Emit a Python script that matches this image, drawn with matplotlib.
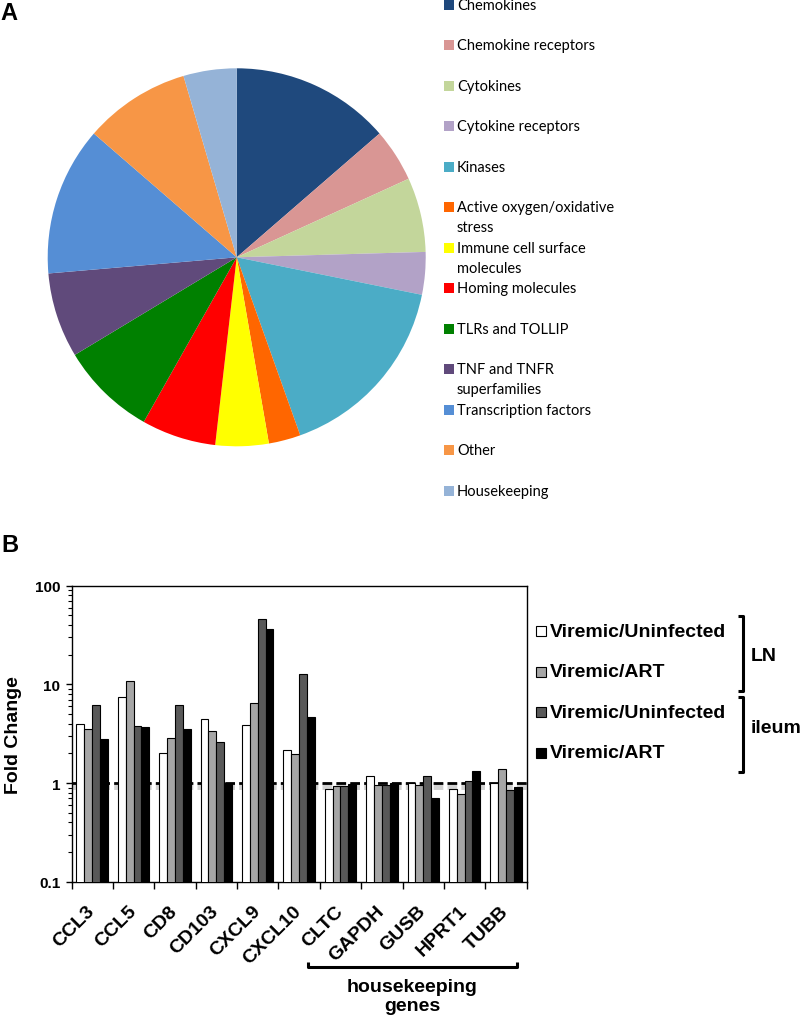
import matplotlib
matplotlib.use('Agg')
import matplotlib.pyplot as plt
import matplotlib.patheffects as pe
from matplotlib.patches import Rectangle
import numpy as np

# panel A: gene categories on the array (gene counts)
categories = ['Chemokines', 'Chemokine receptors', 'Cytokines', 'Cytokine receptors',
              'Kinases', 'Active oxygen/oxidative\nstress', 'Immune cell surface\nmolecules',
              'Homing molecules', 'TLRs and TOLLIP', 'TNF and TNFR\nsuperfamilies',
              'Transcription factors', 'Other', 'Housekeeping']
counts = [15, 5, 7, 4, 18, 3, 5, 7, 9, 8, 14, 10, 5]
pie_colors = ['#1F497D', '#D99694', '#C3D69B', '#B2A2C7', '#4BACC6', '#FF6600', '#FFFF00',
              '#FF0000', '#008000', '#604A7B', '#558ED5', '#F79646', '#95B3D7']

# panel B: fold change per gene
genes = ['CCL3', 'CCL5', 'CD8', 'CD103', 'CXCL9', 'CXCL10', 'CLTC', 'GAPDH', 'GUSB', 'HPRT1', 'TUBB']
ln_vu = [3.99, 7.49, 2.01, 4.48, 3.87, 2.17, 0.875, 1.19, 1.01, 0.875, 1.0]
ln_va = [3.55, 10.9, 2.86, 3.36, 6.51, 1.97, 0.94, 0.946, 0.96, 0.78, 1.39]
il_vu = [6.11, 3.80, 6.11, 2.60, 46.2, 12.8, 0.925, 0.946, 1.17, 1.05, 0.855]
il_va = [2.77, 3.69, 3.57, 0.99, 36.0, 4.62, 0.98, 1.01, 0.70, 1.31, 0.91]
series_labels = ['Viremic/Uninfected', 'Viremic/ART', 'Viremic/Uninfected', 'Viremic/ART']
bar_colors = ['white', '#A6A6A6', '#595959', 'black']

W, H = 800, 1020
fig = plt.figure(figsize=(8, 10.2), dpi=100)

def box(x0, y0, x1, y1):
    # pixel box (top-left origin) -> figure fraction
    return [x0 / W, 1 - y1 / H, (x1 - x0) / W, (y1 - y0) / H]

# overlay in pixel coords for legends / brackets / panel letters
ov = fig.add_axes([0, 0, 1, 1])
ov.set_xlim(0, W)
ov.set_ylim(H, 0)
ov.axis('off')

bold = dict(fontweight='bold', family='Liberation Sans')

# ---- A ----
cx, cy, r = 236.7, 258.3, 189
axp = fig.add_axes(box(cx - r, cy - r, cx + r, cy + r))
axp.pie(counts, colors=pie_colors, startangle=90, counterclock=False,
        wedgeprops=dict(linewidth=0))
axp.set_xlim(-1, 1)
axp.set_ylim(-1, 1)
axp.set_aspect('equal')

ov.text(0, 14, 'A', fontsize=17, va='center', ha='left', **bold)

for i, (lab, c) in enumerate(zip(categories, pie_colors)):
    y = 6 + 40.47 * i
    ov.add_patch(Rectangle((444, y - 5), 10, 10, facecolor=c, edgecolor='none'))
    for j, line in enumerate(lab.split('\n')):
        ov.text(457, y + 20 * j, line, fontsize=10.5, family='Lato', va='center', ha='left')

# ---- B ----
ov.text(1, 545.5, 'B', fontsize=17, va='center', ha='left', **bold)

ax = fig.add_axes(box(71.5, 586.7, 526.7, 882.7))
ax.set_yscale('log')
x = np.arange(len(genes))
bw = 0.19
for k, vals in enumerate([ln_vu, ln_va, il_vu, il_va]):
    ax.bar(x + (k - 1.5) * bw, vals, bw, color=bar_colors[k],
           edgecolor='black', linewidth=0.8, zorder=3)

ax.axhline(1, color='black', lw=2, dashes=(3.5, 1.5), zorder=2,
           path_effects=[pe.SimpleLineShadow(offset=(0, -2), shadow_color='gray', alpha=0.35, linewidth=5),
                         pe.Normal()])

ax.set_ylim(0.1, 100)
ax.set_xlim(-0.5, len(genes) - 0.5)
ax.set_yticks([0.1, 1, 10, 100])
ax.set_yticklabels(['0.1', '1', '10', '100'], fontsize=11, **bold)
ax.yaxis.set_minor_formatter(matplotlib.ticker.NullFormatter())
ax.tick_params(axis='y', which='major', length=4, width=1, pad=4)
ax.tick_params(axis='y', which='minor', length=3, width=0.8)

ax.set_xticks(np.arange(len(genes) + 1) - 0.5)
ax.set_xticklabels([])
ax.tick_params(axis='x', which='major', length=5, width=1)
ax.set_xticks(x, genes, minor=True)
ax.tick_params(axis='x', which='minor', length=0, pad=19)
plt.setp(ax.get_xticklabels(minor=True), rotation=45, ha='right', va='center',
         rotation_mode='anchor', fontsize=14, **bold)

for s in ax.spines.values():
    s.set_linewidth(1)

ov.text(13.5, 734.7, 'Fold Change', rotation=90, fontsize=14, va='center', ha='center', **bold)

# bar legend
for i, (lab, c) in enumerate(zip(series_labels, bar_colors)):
    y = 632.3 + 40.4 * i
    ov.add_patch(Rectangle((536, y - 5), 10, 10, facecolor=c, edgecolor='black', linewidth=0.8))
    ov.text(550, y, lab, fontsize=14, va='center', ha='left', **bold)

# group brackets
bk = dict(color='black', lw=2.2, solid_capstyle='butt')
ov.plot([738, 742.7, 742.7, 738], [616.7, 616.7, 691.7, 691.7], **bk)
ov.plot([738, 742.7, 742.7, 738], [698.3, 698.3, 773.3, 773.3], **bk)
ov.text(751, 656.7, 'LN', fontsize=14, va='center', ha='left', **bold)
ov.text(751, 728.3, 'ileum', fontsize=14, va='center', ha='left', **bold)

ov.plot([308, 308, 516.7, 516.7], [963, 968, 968, 963], **bk)
ov.text(412.5, 997, 'housekeeping\ngenes', fontsize=14, va='center', ha='center',
        linespacing=1.15, **bold)

fig.savefig('out.png', dpi=100)
